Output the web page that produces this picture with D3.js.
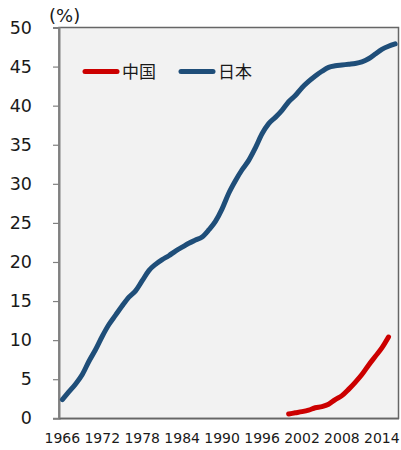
<!DOCTYPE html>
<html>
<head>
<meta charset="utf-8">
<script src="https://cdn.jsdelivr.net/npm/d3@7"></script>
<style>
  html, body { margin: 0; padding: 0; background: #fff; }
  svg text { font-family: "DejaVu Sans", Verdana, "Noto Sans CJK JP", sans-serif; fill: #1a1a1a; }
</style>
</head>
<body>
<svg id="chart" width="401" height="450"></svg>
<script>
// Years on the category axis
const years = d3.range(1966, 2017);
const yearLabels = ["1966", "1972", "1978", "1984", "1990", "1996", "2002", "2008", "2014"];
const yTicks = [0, 5, 10, 15, 20, 25, 30, 35, 40, 45, 50];

// Japan, 1966–2016 (%)
const japanValues = [
  2.4, 3.4, 4.4, 5.6, 7.3, 8.8, 10.5, 12.0, 13.2, 14.4,
  15.5, 16.3, 17.6, 18.9, 19.7, 20.3, 20.8, 21.4, 21.9, 22.4,
  22.8, 23.2, 24.1, 25.2, 26.8, 28.8, 30.4, 31.8, 33.0, 34.6,
  36.4, 37.7, 38.5, 39.4, 40.5, 41.3, 42.3, 43.1, 43.8, 44.4,
  44.9, 45.1, 45.2, 45.3, 45.4, 45.6, 46.0, 46.6, 47.2, 47.6, 47.9
];
// China, 2000–2015 (%)
const chinaYears = d3.range(2000, 2016);
const chinaValues = [
  0.55, 0.7, 0.85, 1.05, 1.35, 1.5, 1.8, 2.4,
  2.9, 3.7, 4.6, 5.6, 6.8, 7.9, 9.0, 10.4
];

const seriesNames = ["中国", "日本"];
const seriesColors = ["#cc0000", "#1f4e79"];

(function draw() {
  const svg = d3.select("#chart");
  const pLeft = 59, pRight = 398.5, pTop = 27.5, pBottom = 418.3;

  const x = d3.scaleBand().domain(years).range([pLeft, pRight]);
  const y = d3.scaleLinear().domain([0, 50]).range([pBottom, pTop]);
  const cx = d => x(d) + x.bandwidth() / 2;

  // plot background and frame
  svg.append("rect")
    .attr("x", pLeft).attr("y", pTop)
    .attr("width", pRight - pLeft).attr("height", pBottom - pTop)
    .attr("fill", "#f2f2f2")
    .attr("stroke", "#666").attr("stroke-width", 1.5);

  // y axis
  const yAxis = svg.append("g")
    .attr("transform", `translate(${pLeft},0)`)
    .call(d3.axisLeft(y).tickValues(yTicks).tickSize(6).tickPadding(21).tickFormat(d3.format("d")));
  yAxis.select(".domain").attr("stroke", "#808080").attr("stroke-width", 2);
  yAxis.selectAll(".tick line").attr("stroke", "#808080").attr("stroke-width", 1.2);
  yAxis.selectAll(".tick text").attr("font-size", 17.5).attr("fill", "#1a1a1a")
    .attr("font-family", "\"DejaVu Sans\", Verdana, sans-serif");

  // x axis labels
  const xAxis = svg.append("g")
    .attr("transform", `translate(0,${pBottom})`)
    .call(d3.axisBottom(x).tickValues(yearLabels.map(Number)).tickSize(0).tickPadding(15));
  xAxis.select(".domain").attr("stroke", "#666").attr("stroke-width", 1.5);
  xAxis.selectAll(".tick text").attr("font-size", 14).attr("fill", "#1a1a1a")
    .attr("font-family", "\"DejaVu Sans\", Verdana, sans-serif");

  // unit label
  svg.append("text").attr("x", 49).attr("y", 22).attr("font-size", 18).text("(%)");

  // series lines
  const line = d3.line().curve(d3.curveMonotoneX);
  svg.append("path")
    .attr("d", line(years.map((yr, i) => [cx(yr), y(japanValues[i])])))
    .attr("fill", "none").attr("stroke", seriesColors[1])
    .attr("stroke-width", 5).attr("stroke-linecap", "round").attr("stroke-linejoin", "round");
  svg.append("path")
    .attr("d", line(chinaYears.map((yr, i) => [cx(yr), y(chinaValues[i])])))
    .attr("fill", "none").attr("stroke", seriesColors[0])
    .attr("stroke-width", 5).attr("stroke-linecap", "round").attr("stroke-linejoin", "round");

  // legend
  const legendPos = [[85, 71.5], [181, 71.5]];
  seriesNames.forEach((name, i) => {
    const [lx, ly] = legendPos[i];
    svg.append("line")
      .attr("x1", lx).attr("x2", lx + 32).attr("y1", ly).attr("y2", ly)
      .attr("stroke", seriesColors[i]).attr("stroke-width", 5).attr("stroke-linecap", "round");
    svg.append("text")
      .attr("x", lx + 37).attr("y", ly + 6)
      .attr("font-size", 17)
      .attr("font-family", "\"Noto Sans CJK JP\", sans-serif")
      .text(name);
  });
})();
</script>
</body>
</html>
